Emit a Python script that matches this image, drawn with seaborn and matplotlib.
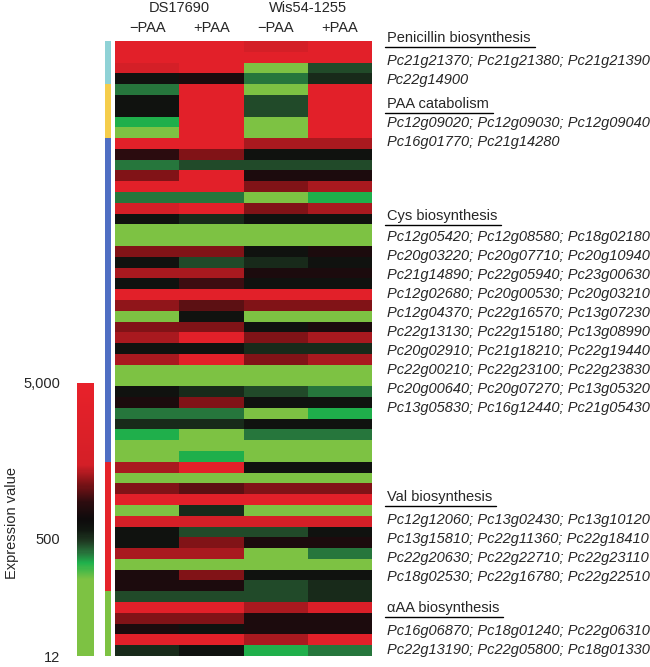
import numpy as np
import pandas as pd
import matplotlib
matplotlib.use("Agg")
import matplotlib.pyplot as plt
from matplotlib.colors import LinearSegmentedColormap, ListedColormap, FuncNorm
from matplotlib.lines import Line2D
import seaborn as sns

# strains / conditions (columns of the heatmap)
strains = ["DS17690", "Wis54-1255"]
conditions = ["\u2212PAA", "+PAA", "\u2212PAA", "+PAA"]
column_ids = ["DS17690 -PAA", "DS17690 +PAA", "Wis54-1255 -PAA", "Wis54-1255 +PAA"]

# pathway groups
groups = ["Penicillin biosynthesis", "PAA catabolism", "Cys biosynthesis",
          "Val biosynthesis", "\u03b1AA biosynthesis"]
group_colors = ["#8fd2d6", "#f5cd4b", "#4f6fc3", "#e5232a", "#7dc243"]

penicillin_genes = ["Pc21g21370", "Pc21g21380", "Pc21g21390", "Pc22g14900"]
paa_genes = ["Pc12g09020", "Pc12g09030", "Pc12g09040", "Pc16g01770", "Pc21g14280"]
cys_genes = ["Pc12g05420", "Pc12g08580", "Pc18g02180",
             "Pc20g03220", "Pc20g07710", "Pc20g10940",
             "Pc21g14890", "Pc22g05940", "Pc23g00630",
             "Pc12g02680", "Pc20g00530", "Pc20g03210",
             "Pc12g04370", "Pc22g16570", "Pc13g07230",
             "Pc22g13130", "Pc22g15180", "Pc13g08990",
             "Pc20g02910", "Pc21g18210", "Pc22g19440",
             "Pc22g00210", "Pc22g23100", "Pc22g23830",
             "Pc20g00640", "Pc20g07270", "Pc13g05320",
             "Pc13g05830", "Pc16g12440", "Pc21g05430"]
val_genes = ["Pc12g12060", "Pc13g02430", "Pc13g10120",
             "Pc13g15810", "Pc22g11360", "Pc22g18410",
             "Pc22g20630", "Pc22g22710", "Pc22g23110",
             "Pc18g02530", "Pc22g16780", "Pc22g22510"]
aaa_genes = ["Pc16g06870", "Pc18g01240", "Pc22g06310",
             "Pc22g13190", "Pc22g05800", "Pc18g01330"]
group_genes = [penicillin_genes, paa_genes, cys_genes, val_genes, aaa_genes]

# expression values (estimated from colours), one row per gene
expression = [
    [3500, 3500, 1500, 3500],
    [3500, 3500, 3500, 3500],
    [1500, 3500, 25, 420],
    [610, 750, 320, 520],
    [320, 3500, 25, 3500],
    [610, 3500, 420, 3500],
    [610, 3500, 420, 3500],
    [230, 3500, 25, 3500],
    [25, 3500, 25, 3500],
    [3500, 3500, 1300, 1300],
    [850, 1150, 610, 610],
    [320, 420, 420, 420],
    [1150, 3500, 750, 750],
    [3500, 3500, 1150, 1300],
    [320, 320, 25, 230],
    [1500, 3500, 1150, 1300],
    [610, 520, 610, 610],
    [25, 25, 25, 25],
    [25, 25, 25, 25],
    [1150, 1150, 610, 750],
    [610, 420, 520, 610],
    [1300, 1300, 750, 750],
    [610, 900, 610, 610],
    [3500, 3500, 3500, 3500],
    [1200, 1000, 1150, 1150],
    [25, 610, 25, 25],
    [1150, 1150, 610, 750],
    [1300, 3500, 1150, 1300],
    [610, 610, 520, 520],
    [1300, 3500, 1150, 1300],
    [25, 25, 25, 25],
    [25, 25, 25, 25],
    [610, 520, 420, 320],
    [750, 1150, 610, 610],
    [320, 320, 25, 230],
    [520, 520, 610, 610],
    [230, 25, 320, 320],
    [25, 25, 25, 25],
    [25, 230, 25, 25],
    [1300, 3500, 610, 610],
    [25, 25, 25, 25],
    [1150, 1000, 1150, 1150],
    [3500, 3500, 3500, 3500],
    [25, 520, 25, 25],
    [1500, 1500, 1500, 1500],
    [610, 420, 420, 610],
    [610, 1150, 750, 750],
    [1300, 1300, 25, 320],
    [25, 25, 25, 25],
    [750, 1150, 610, 610],
    [750, 750, 420, 520],
    [420, 420, 420, 520],
    [3500, 3500, 1300, 2000],
    [1150, 1150, 750, 750],
    [750, 610, 750, 750],
    [3500, 3500, 1300, 3500],
    [520, 610, 230, 320],
]

cbar_ticks = [12, 500, 5000]
cbar_labels = ["12", "500", "5,000"]

all_genes = sum(group_genes, [])
df = pd.DataFrame(expression, index=all_genes, columns=column_ids)

# colour scale: log pieces so 500 sits at 43% of the bar
lo, mid, hi = np.log10(12), np.log10(500), np.log10(5000)
def fwd(v):
    return np.interp(np.log10(v), [lo, mid, hi], [0, 0.43, 1])
def inv(t):
    return 10 ** np.interp(t, [0, 0.43, 1], [lo, mid, hi])
norm = FuncNorm((fwd, inv), vmin=12, vmax=5000)

cmap = LinearSegmentedColormap.from_list("exp", [
    (0.0, "#7dc243"), (0.28, "#7dc243"), (0.34, "#1fb14c"), (0.38, "#27703a"),
    (0.42, "#1f3a22"), (0.46, "#111811"), (0.50, "#0e0b0c"), (0.56, "#2a0c0f"),
    (0.63, "#7a1216"), (0.70, "#d41f27"), (1.0, "#e8212a")])

sns.set_style("white")
plt.rcParams["font.family"] = ["Liberation Sans", "DejaVu Sans"]

W, H = 650, 667
fig = plt.figure(figsize=(6.5, 6.67), dpi=100)
ax = fig.add_axes([115 / W, 1 - 656 / H, 257 / W, 615 / H])
gax = fig.add_axes([105 / W, 1 - 656 / H, 6 / W, 615 / H])
cax = fig.add_axes([77 / W, 1 - 656 / H, 17 / W, 273 / H])

sns.heatmap(df, ax=ax, cmap=cmap, norm=norm, cbar_ax=cax,
            xticklabels=conditions, yticklabels=False)
ax.xaxis.tick_top()
ax.tick_params(axis="x", length=0, pad=4, labelsize=10.5, rotation=0)
ax.set_xlabel("")
ax.set_ylabel("")
for i, s in enumerate(strains):
    ax.text(2 * i + 1, 1.054, s, transform=ax.get_xaxis_transform(),
            ha="center", va="center", fontsize=10.5)

# group colour strip
gidx = np.repeat(np.arange(len(groups)), [len(g) for g in group_genes]).reshape(-1, 1)
sns.heatmap(gidx, ax=gax, cmap=ListedColormap(group_colors), vmin=-0.5,
            vmax=len(groups) - 0.5, cbar=False, xticklabels=False, yticklabels=False)

# colour bar
cb = ax.collections[0].colorbar
cb.set_ticks(cbar_ticks)
cb.set_ticklabels(cbar_labels)
cax.yaxis.set_ticks_position("left")
cax.tick_params(length=0, pad=12, labelsize=10.5)
cb.outline.set_visible(False)
fig.text(12 / W, 1 - 523 / H, "Expression value", rotation=90,
         ha="center", va="center", fontsize=10.5)

# pathway annotations on the right
header_y = [38, 104, 216, 497, 608]
genes_y = [61, 123, 237, 520, 631]
headers = []
for g, hy, gy, genes in zip(groups, header_y, genes_y, group_genes):
    t = fig.text(387 / W, 1 - hy / H, g, ha="left", va="center", fontsize=10.5)
    headers.append((t, hy))
    lines = ["; ".join(genes[k:k + 3]) for k in range(0, len(genes), 3)]
    for j, line in enumerate(lines):
        fig.text(387 / W, 1 - (gy + 19 * j) / H, line, ha="left", va="center",
                 fontsize=10.5, style="italic")

fig.canvas.draw()
for t, hy in headers:
    bb = t.get_window_extent()
    y = 1 - (hy + 9) / H
    fig.add_artist(Line2D([385 / W, (bb.x1 + 4) / W], [y, y], color="black",
                          lw=1, transform=fig.transFigure))

fig.savefig("out.png", dpi=100)
